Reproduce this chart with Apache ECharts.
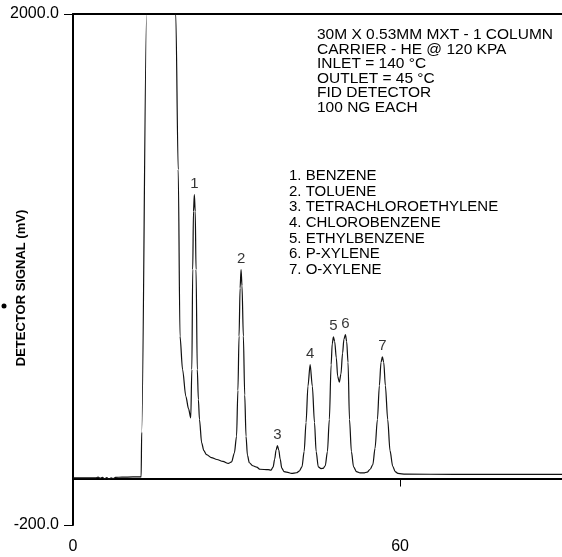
<!DOCTYPE html>
<html>
<head>
<meta charset="utf-8">
<script src="https://cdn.jsdelivr.net/npm/echarts@6/dist/echarts.min.js"></script>
<style>
  html, body { margin: 0; padding: 0; background: #fff; }
  #chart { width: 562px; height: 557px; }
</style>
</head>
<body>
<div id="chart"></div>
<script>
// retention time (min) / detector signal (mV)
var traceTime = [
  0, 2, 4.2, 4.6, 5.0, 5.4, 5.8, 6.2, 6.6, 7.0, 7.4, 7.8, 9, 11, 12.5,
  12.6, 13.5, 13.7, 18.6, 18.85, 19.3, 19.63, 20.1, 20.7, 21.2, 21.6,
  21.8, 21.96, 22.1, 22.26, 22.42, 22.57, 22.8, 23.0, 23.2, 23.6, 24.0, 24.5, 25.4, 26.4, 27.5, 28.5, 29.1,
  29.6, 30.0, 30.25, 30.46, 30.65, 30.83, 31.0, 31.25, 31.5, 31.74, 32.0, 32.35, 33.0, 33.7, 34.3, 35.8,
  36.3, 36.7, 37.0, 37.25, 37.5, 37.75, 38.0, 38.3, 38.7, 39.2, 40.1, 41.0, 41.5,
  42.0, 42.4, 42.75, 43.1, 43.5, 43.9, 44.3, 44.6, 45.0, 45.5,
  45.9, 46.27, 46.67, 47.02, 47.35, 47.55, 47.77, 48.0, 48.3, 48.55, 48.85,
  49.15, 49.45, 49.7, 49.97, 50.2, 50.45, 50.72, 51.07, 51.47, 52.0, 52.66,
  53.3, 54.0, 54.5, 55.0, 55.4, 55.84, 56.2, 56.5, 56.75, 57.0, 57.3, 57.73, 58.15, 58.65, 59.1, 59.6, 61, 70, 89.7
];
var traceSignal = [
  3, 3, 3, 6, 1, 5, -2, 4, -4, 3, 0, 5, 6, 7, 7,
  200, 2000, 2300, 2300, 2000, 1330, 613, 469, 354, 300, 261,
  469, 900, 1150, 1222, 1150, 900, 469, 340, 254, 154, 120, 103, 90, 82, 74, 65, 72,
  110, 182, 380, 613, 820, 900, 830, 613, 360, 182, 100, 68, 55, 49, 40, 38,
  36, 49, 84, 123, 142, 123, 84, 45, 30, 28, 22, 25, 32,
  50, 116, 241, 398, 491, 398, 241, 116, 50, 43,
  44, 55, 116, 254, 490, 580, 610, 590, 520, 440, 415,
  450, 540, 600, 620, 590, 500, 254, 116, 50, 30, 24,
  24, 28, 40, 60, 130, 254, 400, 500, 524, 500, 400, 254, 120, 53, 30, 22, 19, 18, 18
];

// numbered peaks
var peakNames = ['1', '2', '3', '4', '5', '6', '7'];
var peakTime = [22.26, 30.83, 37.5, 43.5, 47.77, 49.97, 56.75];
var peakSignal = [1222, 900, 142, 491, 610, 620, 524];

var xTicks = [0, 60];
var yTicks = [-200, 2000];

var conditions = [
  '30M X 0.53MM MXT - 1 COLUMN',
  'CARRIER - HE @ 120 KPA',
  'INLET = 140 °C',
  'OUTLET = 45 °C',
  'FID DETECTOR',
  '100 NG EACH'
];
var compounds = [
  '1. BENZENE',
  '2. TOLUENE',
  '3. TETRACHLOROETHYLENE',
  '4. CHLOROBENZENE',
  '5. ETHYLBENZENE',
  '6. P-XYLENE',
  '7. O-XYLENE'
];

var FONT = 'Liberation Sans, Arial, sans-serif';

var trace = traceTime.map(function (t, i) { return [t, traceSignal[i]]; });
var peaks = peakTime.map(function (t, i) { return { value: [t, peakSignal[i]], name: peakNames[i] }; });

var myChart = echarts.init(document.getElementById('chart'), null, { renderer: 'canvas' });
myChart.setOption({
  animation: false,
  grid: { left: 73, top: 14, right: 0, bottom: 32 },
  xAxis: [
    {
      type: 'value',
      min: 0,
      max: 89.7,
      axisLine: { lineStyle: { color: '#000', width: 2 } },
      axisTick: { customValues: xTicks, length: 8, lineStyle: { color: '#000', width: 1 } },
      axisLabel: { customValues: xTicks, margin: 14, color: '#000', fontSize: 16, fontFamily: FONT },
      splitLine: { show: false }
    },
    {
      // top frame line
      type: 'value',
      position: 'top',
      min: 0,
      max: 89.7,
      axisLine: { show: true, lineStyle: { color: '#000', width: 2 } },
      axisTick: { show: false },
      axisLabel: { show: false },
      splitLine: { show: false }
    }
  ],
  yAxis: {
    type: 'value',
    min: -200,
    max: 2000,
    axisLine: { show: true, lineStyle: { color: '#000', width: 2 } },
    axisTick: { show: true, customValues: yTicks, length: 9, lineStyle: { color: '#000', width: 1 } },
    axisLabel: {
      customValues: yTicks, margin: 14, color: '#000', fontSize: 16, fontFamily: FONT,
      formatter: function (v) { return v.toFixed(1); }
    },
    splitLine: { show: false }
  },
  series: [
    {
      type: 'line',
      data: trace,
      showSymbol: false,
      smooth: 0.3,
      smoothMonotone: 'x',
      clip: true,
      lineStyle: { color: '#111', width: 1.2 }
    },
    {
      type: 'scatter',
      data: peaks,
      symbolSize: 0,
      silent: true,
      label: {
        show: true,
        position: 'top',
        distance: 3,
        formatter: '{b}',
        color: '#000',
        fontSize: 15,
        fontFamily: FONT
      }
    }
  ],
  graphic: [
    {
      type: 'text',
      left: 317,
      top: 27,
      style: { text: conditions.join('\n'), fill: '#000', font: '15.5px ' + FONT, lineHeight: 14.5 }
    },
    {
      type: 'text',
      left: 289,
      top: 168,
      style: { text: compounds.join('\n'), fill: '#000', font: '15px ' + FONT, lineHeight: 15.7 }
    },
    {
      type: 'text',
      x: 21,
      y: 288,
      rotation: Math.PI / 2,
      style: {
        text: 'DETECTOR SIGNAL (mV)', fill: '#000', font: 'bold 13px ' + FONT,
        align: 'center', verticalAlign: 'middle'
      }
    },
    {
      type: 'circle',
      shape: { cx: 4, cy: 306, r: 2.5 },
      style: { fill: '#000' }
    }
  ]
});
</script>
</body>
</html>
